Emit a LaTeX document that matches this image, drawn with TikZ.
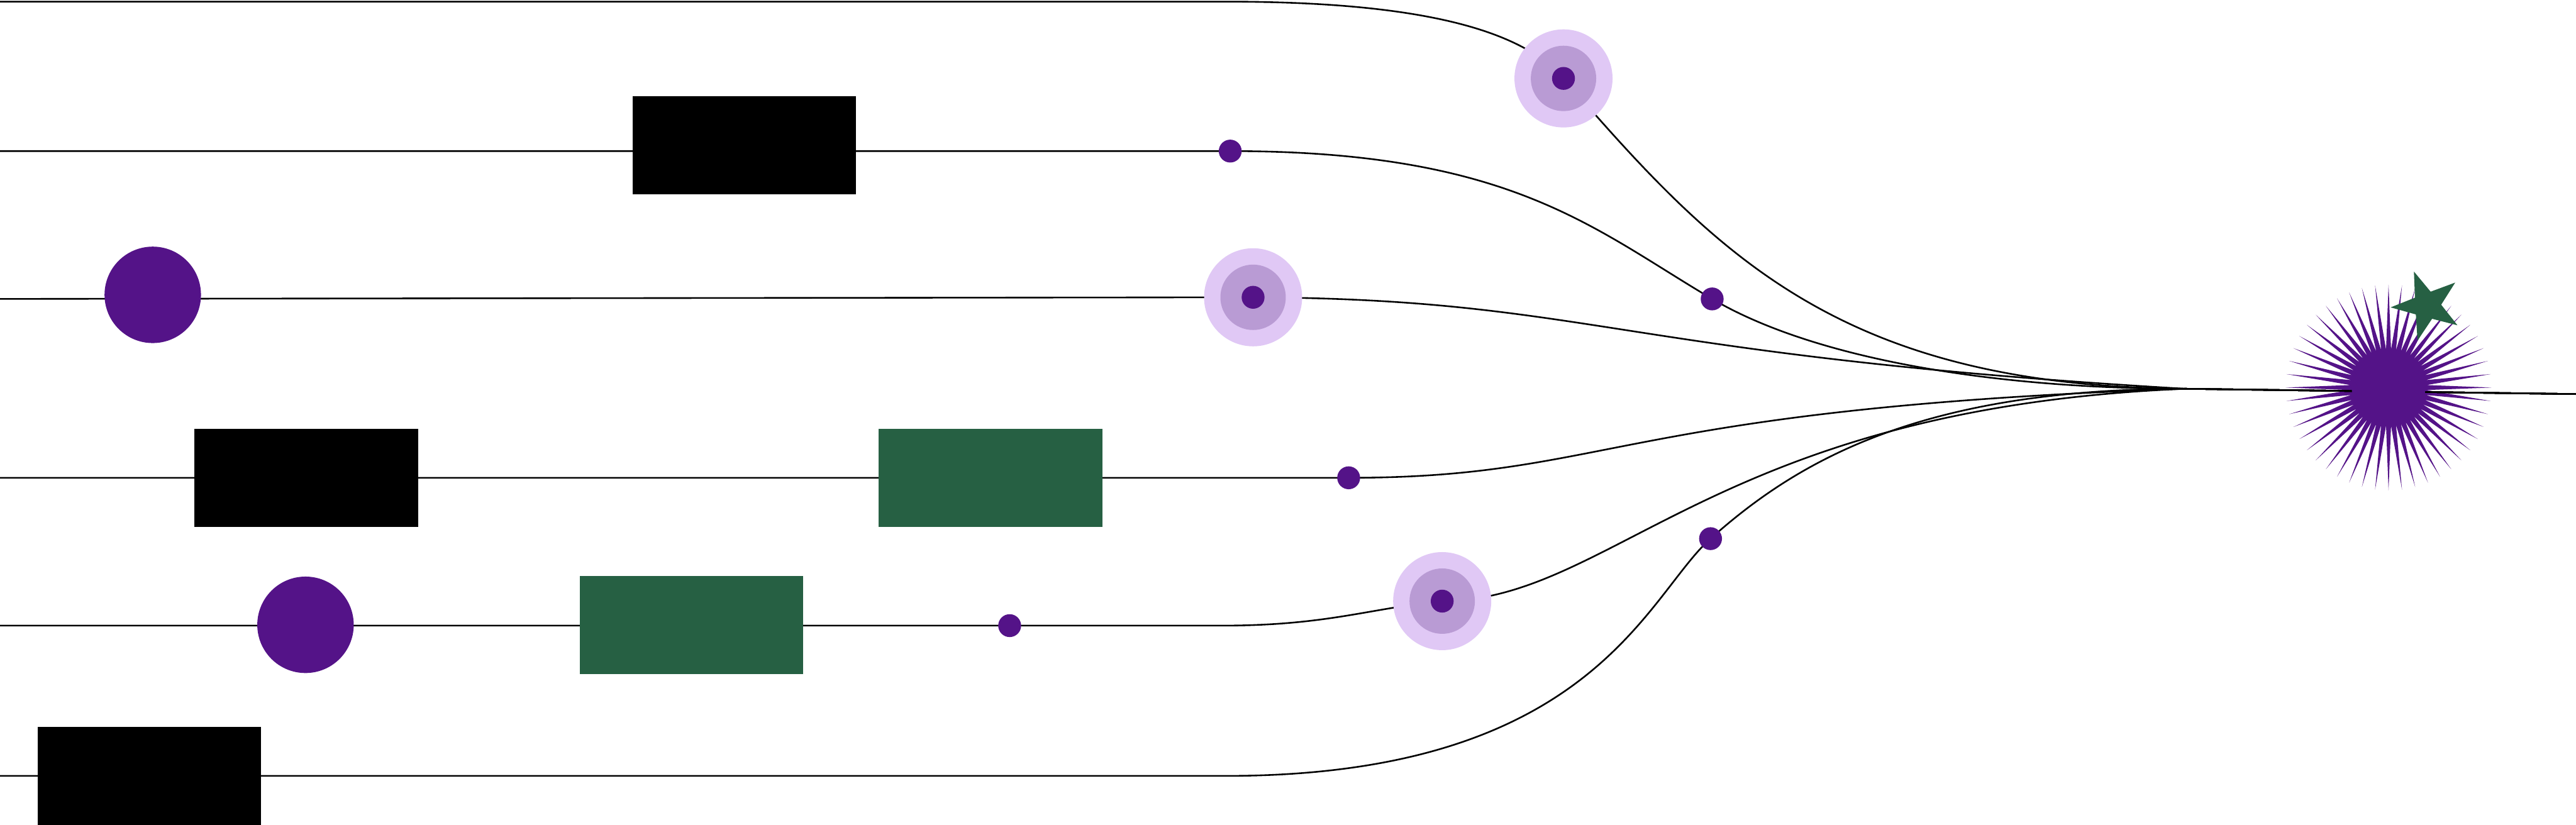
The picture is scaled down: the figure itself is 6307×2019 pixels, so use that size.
\documentclass[tikz,border=0pt]{standalone}
\usepackage{xcolor}
\usepackage{tikz}
\usetikzlibrary{shapes.geometric,backgrounds}
\definecolor{cmorado}{HTML}{541388}
\definecolor{clila}{HTML}{E0C8F5}
\definecolor{clavanda}{HTML}{B99BD4}
\definecolor{cverde}{HTML}{266043}
\tikzset{
  cajan/.style={rectangle, fill=black, minimum width=5.47cm, minimum height=2.4cm, inner sep=0pt},
  cajav/.style={rectangle, fill=cverde, minimum width=5.47cm, minimum height=2.4cm, inner sep=0pt},
  bola/.style={circle, fill=cmorado, minimum size=2.36cm, inner sep=0pt},
  punto/.style={circle, fill=cmorado, minimum size=0.56cm, inner sep=0pt},
  diana/.style={circle, fill=clila, minimum size=2.4cm, inner sep=0pt,
    path picture={\fill[clavanda] (path picture bounding box.center) circle (0.8cm);
      \fill[cmorado] (path picture bounding box.center) circle (0.28cm);}},
  rayos/.style={star, star points=48, star point ratio=2.7, fill=cmorado,
    minimum size=5.04cm, inner sep=0pt},
  nucleo/.style={circle, fill=cmorado, minimum size=1.8cm, inner sep=0pt},
  estrella/.style={star, star points=5, star point ratio=2.55, fill=cverde,
    minimum size=1.78cm, inner sep=0pt, shape border rotate=21},
  linea/.style={draw=black, line width=0.4mm},
}
\begin{document}
\begin{tikzpicture}[x=0.01cm, y=-0.01cm]
  \useasboundingbox (0,0) rectangle (6307,2019);
  \coordinate (l1) at (0,4);
  \coordinate (l2) at (0,370);
  \coordinate (l3) at (0,732);
  \coordinate (l4) at (0,1170);
  \coordinate (l5) at (0,1532);
  \coordinate (l6) at (0,1900);
  \coordinate (q1) at (3000,4);
  \coordinate (q5) at (2990,1532);
  \coordinate (q6) at (3000,1900);
  \coordinate (haz) at (5350,952);
  \coordinate (fin) at (6307,965);

  \node[diana] (dA) at (3828,192) {};
  \node[cajan] (b1) at (1822,356) {};
  \node[punto] (p2) at (3012,370) {};
  \node[punto] (p2b) at (4192,732) {};
  \node[bola] (c3) at (374,722) {};
  \node[diana] (d3) at (3068,728) {};
  \node[cajan] (b4) at (750,1170) {};
  \node[cajav] (g4) at (2425,1170) {};
  \node[punto] (p4) at (3302,1170) {};
  \node[bola] (c5) at (748,1530) {};
  \node[cajav] (g5) at (1693,1530) {};
  \node[punto] (p5) at (2472,1532) {};
  \node[diana] (d5) at (3531,1472) {};
  \node[cajan] (b6) at (366,1900) {};
  \node[punto] (p6) at (4188,1319) {};

  \begin{scope}[on background layer]
    \node[rayos] (rayos) at (5848,949) {};
    \draw[linea] (l1) -- (q1) .. controls (3450,4) and (3718,65) .. (dA.center)
      .. controls (4200,620) and (4500,945) .. (haz) -- (fin);
    \draw[linea] (l2) -- (p2.center) .. controls (3700,370) and (3900,560) .. (p2b.center)
      .. controls (4450,884) and (4900,952) .. (haz) -- (fin);
    \draw[linea] (l3) -- (d3.center) .. controls (3900,732) and (3950,870) .. (haz) -- (fin);
    \draw[linea] (l4) -- (b4.center) -- (g4.center) -- (p4.center)
      .. controls (3950,1170) and (3950,1000) .. (haz) -- (fin);
    \draw[linea] (l5) -- (p5.center) -- (q5)
      .. controls (3250,1532) and (3350,1490) .. (d5.center)
      .. controls (3950,1470) and (4200,1000) .. (haz) -- (fin);
    \draw[linea] (l6) -- (b6.center) -- (q6) .. controls (3900,1900) and (4030,1460) .. (p6.center)
      .. controls (4400,1130) and (4700,952) .. (haz) -- (fin);
  \end{scope}

  \node[nucleo] (sol) at (rayos) {};
  \node[estrella] (astro) at (5942,748) {};
\end{tikzpicture}
\end{document}
